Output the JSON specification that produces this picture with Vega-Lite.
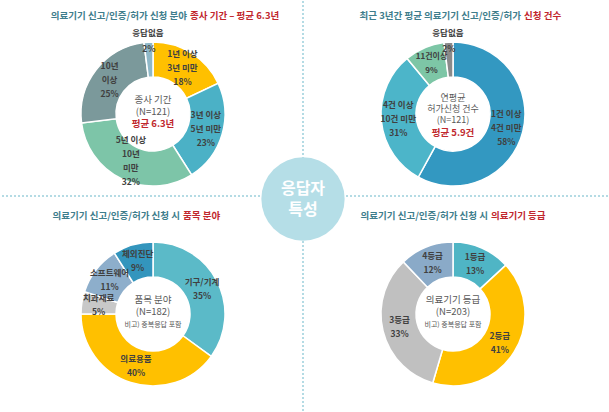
{
  "$schema": "https://vega.github.io/schema/vega-lite/v6.json",
  "width": 609,
  "height": 412,
  "padding": 0,
  "autosize": {"type": "fit", "contains": "padding"},
  "background": "white",
  "config": {"view": {"stroke": null}, "font": "Noto Sans CJK KR", "text": {"font": "Noto Sans CJK KR"}},
  "datasets": {
    "slices": [
      {"panel": "tl", "col": "left", "row": "top", "idx": 1, "cat": "1년 이상 3년 미만", "value": 18, "label2": "", "label3": "1년 이상\n3년 미만\n18%", "label4": "", "small": "", "outside": ""},
      {"panel": "tl", "col": "left", "row": "top", "idx": 2, "cat": "3년 이상 5년 미만", "value": 23, "label2": "", "label3": "3년 이상\n5년 미만\n23%", "label4": "", "small": "", "outside": ""},
      {"panel": "tl", "col": "left", "row": "top", "idx": 3, "cat": "5년 이상 10년 미만", "value": 32, "label2": "", "label3": "", "label4": "5년 이상\n10년\n미만\n32%", "small": "", "outside": ""},
      {"panel": "tl", "col": "left", "row": "top", "idx": 4, "cat": "10년 이상", "value": 25, "label2": "", "label3": "10년\n이상\n25%", "label4": "", "small": "", "outside": ""},
      {"panel": "tl", "col": "left", "row": "top", "idx": 5, "cat": "응답없음", "value": 2, "label2": "", "label3": "", "label4": "", "small": "2%", "outside": "응답없음"},
      {"panel": "tr", "col": "right", "row": "top", "idx": 1, "cat": "1건 이상 4건 미만", "value": 58, "label2": "", "label3": "1건 이상\n4건 미만\n58%", "label4": "", "small": "", "outside": ""},
      {"panel": "tr", "col": "right", "row": "top", "idx": 2, "cat": "4건 이상 10건 미만", "value": 31, "label2": "", "label3": "4건 이상\n10건 미만\n31%", "label4": "", "small": "", "outside": ""},
      {"panel": "tr", "col": "right", "row": "top", "idx": 3, "cat": "11건이상", "value": 9, "label2": "11건이상\n9%", "label3": "", "label4": "", "small": "", "outside": ""},
      {"panel": "tr", "col": "right", "row": "top", "idx": 4, "cat": "응답없음", "value": 2, "label2": "", "label3": "", "label4": "", "small": "2%", "outside": "응답없음"},
      {"panel": "bl", "col": "left", "row": "bottom", "idx": 1, "cat": "기구/기계", "value": 35, "label2": "기구/기계\n35%", "label3": "", "label4": "", "small": "", "outside": ""},
      {"panel": "bl", "col": "left", "row": "bottom", "idx": 2, "cat": "의료용품", "value": 40, "label2": "의료용품\n40%", "label3": "", "label4": "", "small": "", "outside": ""},
      {"panel": "bl", "col": "left", "row": "bottom", "idx": 3, "cat": "치과재료", "value": 5, "label2": "치과재료\n5%", "label3": "", "label4": "", "small": "", "outside": ""},
      {"panel": "bl", "col": "left", "row": "bottom", "idx": 4, "cat": "소프트웨어", "value": 11, "label2": "소프트웨어\n11%", "label3": "", "label4": "", "small": "", "outside": ""},
      {"panel": "bl", "col": "left", "row": "bottom", "idx": 5, "cat": "체외진단", "value": 9, "label2": "체외진단\n9%", "label3": "", "label4": "", "small": "", "outside": ""},
      {"panel": "br", "col": "right", "row": "bottom", "idx": 1, "cat": "1등급", "value": 13, "label2": "1등급\n13%", "label3": "", "label4": "", "small": "", "outside": ""},
      {"panel": "br", "col": "right", "row": "bottom", "idx": 2, "cat": "2등급", "value": 41, "label2": "2등급\n41%", "label3": "", "label4": "", "small": "", "outside": ""},
      {"panel": "br", "col": "right", "row": "bottom", "idx": 3, "cat": "3등급", "value": 33, "label2": "3등급\n33%", "label3": "", "label4": "", "small": "", "outside": ""},
      {"panel": "br", "col": "right", "row": "bottom", "idx": 4, "cat": "4등급", "value": 12, "label2": "4등급\n12%", "label3": "", "label4": "", "small": "", "outside": ""}
    ],
    "titles": [
      {"panel": "tl", "col": "left", "row": "top", "t1": "의료기기 신고/인증/허가 신청 분야", "t2": "종사 기간 – 평균 6.3년"},
      {"panel": "tr", "col": "right", "row": "top", "t1": "최근 3년간 평균 의료기기 신고/인증/허가", "t2": "신청 건수"},
      {"panel": "bl", "col": "left", "row": "bottom", "t1": "의료기기 신고/인증/허가 신청 시", "t2": "품목 분야"},
      {"panel": "br", "col": "right", "row": "bottom", "t1": "의료기기 신고/인증/허가 신청 시", "t2": "의료기기 등급"}
    ],
    "centers": [
      {"panel": "tl", "col": "left", "row": "top", "main": "종사 기간\n(N=121)", "sub": "평균 6.3년"},
      {"panel": "tr", "col": "right", "row": "top", "main": "연평균\n허가신청 건수\n(N=121)", "sub": "평균 5.9건"},
      {"panel": "bl", "col": "left", "row": "bottom", "main": "품목 분야\n(N=182)", "sub": "비고) 중복응답 포함"},
      {"panel": "br", "col": "right", "row": "bottom", "main": "의료기기 등급\n(N=203)", "sub": "비고) 중복응답 포함"}
    ],
    "decor": [
      {"col": "center", "row": "middle", "label": "응답자\n특성"}
    ]
  },
  "resolve": {"scale": {"theta": "independent", "color": "independent"}},
  "layer": [
    {
      "data": {"name": "decor"},
      "mark": {"type": "rule", "strokeDash": [2, 2], "color": "#9CCFDB", "strokeWidth": 1.5},
      "encoding": {
        "x": {"field": "col", "type": "nominal", "scale": {"type": "point", "domain": ["left", "center", "right"], "range": [152, 452], "padding": 0}, "axis": null}
      }
    },
    {
      "data": {"name": "decor"},
      "mark": {"type": "rule", "strokeDash": [2, 2], "color": "#9CCFDB", "strokeWidth": 1.5, "yOffset": -18},
      "encoding": {
        "y": {"field": "row", "type": "nominal", "scale": {"type": "point", "domain": ["top", "middle", "bottom"], "range": [113, 313], "padding": 0}, "axis": null}
      }
    },
    {
      "data": {"name": "decor"},
      "mark": {"type": "circle", "size": 6940, "color": "#B5DEE7", "opacity": 1, "yOffset": -15},
      "encoding": {
        "x": {"field": "col", "type": "nominal", "scale": {"type": "point", "domain": ["left", "center", "right"], "range": [152, 452], "padding": 0}, "axis": null},
        "y": {"field": "row", "type": "nominal", "scale": {"type": "point", "domain": ["top", "middle", "bottom"], "range": [113, 313], "padding": 0}, "axis": null}
      }
    },
    {
      "data": {"name": "decor"},
      "mark": {"type": "text", "lineBreak": "\n", "fontSize": 16, "fontWeight": "bold", "color": "white", "lineHeight": 21, "dy": -25},
      "encoding": {
        "x": {"field": "col", "type": "nominal", "scale": {"type": "point", "domain": ["left", "center", "right"], "range": [152, 452], "padding": 0}, "axis": null},
        "y": {"field": "row", "type": "nominal", "scale": {"type": "point", "domain": ["top", "middle", "bottom"], "range": [113, 313], "padding": 0}, "axis": null},
        "text": {"field": "label"}
      }
    },
    {
      "data": {"name": "slices"},
      "transform": [{"filter": "datum.panel === 'tl'"}],
      "encoding": {
        "x": {"field": "col", "type": "nominal", "scale": {"type": "point", "domain": ["left", "center", "right"], "range": [152, 452], "padding": 0}, "axis": null},
        "y": {"field": "row", "type": "nominal", "scale": {"type": "point", "domain": ["top", "middle", "bottom"], "range": [113, 313], "padding": 0}, "axis": null},
        "theta": {"field": "value", "type": "quantitative", "stack": true},
        "order": {"field": "idx", "type": "quantitative"}
      },
      "layer": [
        {"mark": {"type": "arc", "innerRadius": 37, "outerRadius": 72, "stroke": "white", "strokeWidth": 1.5},
         "encoding": {"color": {"field": "cat", "type": "nominal", "legend": null, "scale": {"domain": ["1년 이상 3년 미만", "3년 이상 5년 미만", "5년 이상 10년 미만", "10년 이상", "응답없음"], "range": ["#FFC000", "#4BB1C6", "#7DC5A8", "#7B999B", "#8FB8C8"]}}}},
        {"mark": {"type": "text", "radius": 55, "lineBreak": "\n", "fontSize": 8.5, "fontWeight": "bold", "color": "#404040", "lineHeight": 14, "dy": -14}, "encoding": {"text": {"field": "label3"}}},
        {"mark": {"type": "text", "radius": 52, "lineBreak": "\n", "fontSize": 8.5, "fontWeight": "bold", "color": "#404040", "lineHeight": 14, "dy": -21}, "encoding": {"text": {"field": "label4"}}},
        {"mark": {"type": "text", "radius": 65, "fontSize": 8.5, "fontWeight": "bold", "color": "#404040"}, "encoding": {"text": {"field": "small"}}},
        {"mark": {"type": "text", "radius": 81, "fontSize": 8.5, "fontWeight": "bold", "color": "#404040"}, "encoding": {"text": {"field": "outside"}}}
      ]
    },
    {
      "data": {"name": "slices"},
      "transform": [{"filter": "datum.panel === 'tr'"}],
      "encoding": {
        "x": {"field": "col", "type": "nominal", "scale": {"type": "point", "domain": ["left", "center", "right"], "range": [152, 452], "padding": 0}, "axis": null},
        "y": {"field": "row", "type": "nominal", "scale": {"type": "point", "domain": ["top", "middle", "bottom"], "range": [113, 313], "padding": 0}, "axis": null},
        "theta": {"field": "value", "type": "quantitative", "stack": true},
        "order": {"field": "idx", "type": "quantitative"}
      },
      "layer": [
        {"mark": {"type": "arc", "innerRadius": 37, "outerRadius": 72, "stroke": "white", "strokeWidth": 1.5},
         "encoding": {"color": {"field": "cat", "type": "nominal", "legend": null, "scale": {"domain": ["1건 이상 4건 미만", "4건 이상 10건 미만", "11건이상", "응답없음"], "range": ["#3398C1", "#4CB5C9", "#7DC6A6", "#8A8A8A"]}}}},
        {"mark": {"type": "text", "radius": 55, "lineBreak": "\n", "fontSize": 8.5, "fontWeight": "bold", "color": "#404040", "lineHeight": 14, "dy": -14}, "encoding": {"text": {"field": "label3"}}},
        {"mark": {"type": "text", "radius": 54, "lineBreak": "\n", "fontSize": 8, "fontWeight": "bold", "color": "#404040", "lineHeight": 14, "dy": -7}, "encoding": {"text": {"field": "label2"}}},
        {"mark": {"type": "text", "radius": 65, "fontSize": 8.5, "fontWeight": "bold", "color": "#404040"}, "encoding": {"text": {"field": "small"}}},
        {"mark": {"type": "text", "radius": 81, "fontSize": 8.5, "fontWeight": "bold", "color": "#404040"}, "encoding": {"text": {"field": "outside"}}}
      ]
    },
    {
      "data": {"name": "slices"},
      "transform": [{"filter": "datum.panel === 'bl'"}],
      "encoding": {
        "x": {"field": "col", "type": "nominal", "scale": {"type": "point", "domain": ["left", "center", "right"], "range": [152, 452], "padding": 0}, "axis": null},
        "y": {"field": "row", "type": "nominal", "scale": {"type": "point", "domain": ["top", "middle", "bottom"], "range": [113, 313], "padding": 0}, "axis": null},
        "theta": {"field": "value", "type": "quantitative", "stack": true},
        "order": {"field": "idx", "type": "quantitative"}
      },
      "layer": [
        {"mark": {"type": "arc", "innerRadius": 37, "outerRadius": 72, "stroke": "white", "strokeWidth": 1.5},
         "encoding": {"color": {"field": "cat", "type": "nominal", "legend": null, "scale": {"domain": ["기구/기계", "의료용품", "치과재료", "소프트웨어", "체외진단"], "range": ["#5BBAC8", "#FFC000", "#C8C8C8", "#8DAECB", "#3395BD"]}}}},
        {"mark": {"type": "text", "radius": 55, "lineBreak": "\n", "fontSize": 8.5, "fontWeight": "bold", "color": "#404040", "lineHeight": 14, "dy": -7}, "encoding": {"text": {"field": "label2"}}}
      ]
    },
    {
      "data": {"name": "slices"},
      "transform": [{"filter": "datum.panel === 'br'"}],
      "encoding": {
        "x": {"field": "col", "type": "nominal", "scale": {"type": "point", "domain": ["left", "center", "right"], "range": [152, 452], "padding": 0}, "axis": null},
        "y": {"field": "row", "type": "nominal", "scale": {"type": "point", "domain": ["top", "middle", "bottom"], "range": [113, 313], "padding": 0}, "axis": null},
        "theta": {"field": "value", "type": "quantitative", "stack": true},
        "order": {"field": "idx", "type": "quantitative"}
      },
      "layer": [
        {"mark": {"type": "arc", "innerRadius": 37, "outerRadius": 72, "stroke": "white", "strokeWidth": 1.5},
         "encoding": {"color": {"field": "cat", "type": "nominal", "legend": null, "scale": {"domain": ["1등급", "2등급", "3등급", "4등급"], "range": ["#4FB5C5", "#FFC000", "#C0C0C0", "#8AAAC8"]}}}},
        {"mark": {"type": "text", "radius": 55, "lineBreak": "\n", "fontSize": 8.5, "fontWeight": "bold", "color": "#404040", "lineHeight": 14, "dy": -7}, "encoding": {"text": {"field": "label2"}}}
      ]
    },
    {
      "data": {"name": "centers"},
      "transform": [{"filter": "datum.panel !== 'tr'"}],
      "mark": {"type": "text", "lineBreak": "\n", "fontSize": 9.5, "color": "#595959", "lineHeight": 12, "dy": -14},
      "encoding": {
        "x": {"field": "col", "type": "nominal", "scale": {"type": "point", "domain": ["left", "center", "right"], "range": [152, 452], "padding": 0}, "axis": null},
        "y": {"field": "row", "type": "nominal", "scale": {"type": "point", "domain": ["top", "middle", "bottom"], "range": [113, 313], "padding": 0}, "axis": null},
        "text": {"field": "main"}
      }
    },
    {
      "data": {"name": "centers"},
      "transform": [{"filter": "datum.panel === 'tr'"}],
      "mark": {"type": "text", "lineBreak": "\n", "fontSize": 9, "color": "#595959", "lineHeight": 11, "dy": -16},
      "encoding": {
        "x": {"field": "col", "type": "nominal", "scale": {"type": "point", "domain": ["left", "center", "right"], "range": [152, 452], "padding": 0}, "axis": null},
        "y": {"field": "row", "type": "nominal", "scale": {"type": "point", "domain": ["top", "middle", "bottom"], "range": [113, 313], "padding": 0}, "axis": null},
        "text": {"field": "main"}
      }
    },
    {
      "data": {"name": "centers"},
      "transform": [{"filter": "datum.panel === 'tl'"}],
      "mark": {"type": "text", "fontSize": 9.5, "fontWeight": "bold", "color": "#C0282D", "dy": 10},
      "encoding": {
        "x": {"field": "col", "type": "nominal", "scale": {"type": "point", "domain": ["left", "center", "right"], "range": [152, 452], "padding": 0}, "axis": null},
        "y": {"field": "row", "type": "nominal", "scale": {"type": "point", "domain": ["top", "middle", "bottom"], "range": [113, 313], "padding": 0}, "axis": null},
        "text": {"field": "sub"}
      }
    },
    {
      "data": {"name": "centers"},
      "transform": [{"filter": "datum.panel === 'tr'"}],
      "mark": {"type": "text", "fontSize": 9.5, "fontWeight": "bold", "color": "#C0282D", "dy": 19},
      "encoding": {
        "x": {"field": "col", "type": "nominal", "scale": {"type": "point", "domain": ["left", "center", "right"], "range": [152, 452], "padding": 0}, "axis": null},
        "y": {"field": "row", "type": "nominal", "scale": {"type": "point", "domain": ["top", "middle", "bottom"], "range": [113, 313], "padding": 0}, "axis": null},
        "text": {"field": "sub"}
      }
    },
    {
      "data": {"name": "centers"},
      "transform": [{"filter": "datum.row === 'bottom'"}],
      "mark": {"type": "text", "fontSize": 7, "color": "#595959", "dy": 11},
      "encoding": {
        "x": {"field": "col", "type": "nominal", "scale": {"type": "point", "domain": ["left", "center", "right"], "range": [152, 452], "padding": 0}, "axis": null},
        "y": {"field": "row", "type": "nominal", "scale": {"type": "point", "domain": ["top", "middle", "bottom"], "range": [113, 313], "padding": 0}, "axis": null},
        "text": {"field": "sub"}
      }
    },
    {
      "data": {"name": "titles"},
      "transform": [{"filter": "datum.panel === 'tl'"}],
      "encoding": {
        "x": {"field": "col", "type": "nominal", "scale": {"type": "point", "domain": ["left", "center", "right"], "range": [152, 452], "padding": 0}, "axis": null},
        "y": {"field": "row", "type": "nominal", "scale": {"type": "point", "domain": ["top", "middle", "bottom"], "range": [113, 313], "padding": 0}, "axis": null}
      },
      "layer": [
        {"mark": {"type": "text", "fontSize": 9.5, "fontWeight": "bold", "color": "#3E7D8C", "align": "right", "dx": 34, "dy": -98}, "encoding": {"text": {"field": "t1"}}},
        {"mark": {"type": "text", "fontSize": 9.5, "fontWeight": "bold", "color": "#C1272D", "align": "left", "dx": 37, "dy": -98}, "encoding": {"text": {"field": "t2"}}}
      ]
    },
    {
      "data": {"name": "titles"},
      "transform": [{"filter": "datum.panel === 'tr'"}],
      "encoding": {
        "x": {"field": "col", "type": "nominal", "scale": {"type": "point", "domain": ["left", "center", "right"], "range": [152, 452], "padding": 0}, "axis": null},
        "y": {"field": "row", "type": "nominal", "scale": {"type": "point", "domain": ["top", "middle", "bottom"], "range": [113, 313], "padding": 0}, "axis": null}
      },
      "layer": [
        {"mark": {"type": "text", "fontSize": 9.5, "fontWeight": "bold", "color": "#3E7D8C", "align": "right", "dx": 68, "dy": -98}, "encoding": {"text": {"field": "t1"}}},
        {"mark": {"type": "text", "fontSize": 9.5, "fontWeight": "bold", "color": "#C1272D", "align": "left", "dx": 71, "dy": -98}, "encoding": {"text": {"field": "t2"}}}
      ]
    },
    {
      "data": {"name": "titles"},
      "transform": [{"filter": "datum.panel === 'bl'"}],
      "encoding": {
        "x": {"field": "col", "type": "nominal", "scale": {"type": "point", "domain": ["left", "center", "right"], "range": [152, 452], "padding": 0}, "axis": null},
        "y": {"field": "row", "type": "nominal", "scale": {"type": "point", "domain": ["top", "middle", "bottom"], "range": [113, 313], "padding": 0}, "axis": null}
      },
      "layer": [
        {"mark": {"type": "text", "fontSize": 9.5, "fontWeight": "bold", "color": "#3E7D8C", "align": "right", "dx": 27, "dy": -98}, "encoding": {"text": {"field": "t1"}}},
        {"mark": {"type": "text", "fontSize": 9.5, "fontWeight": "bold", "color": "#C1272D", "align": "left", "dx": 30, "dy": -98}, "encoding": {"text": {"field": "t2"}}}
      ]
    },
    {
      "data": {"name": "titles"},
      "transform": [{"filter": "datum.panel === 'br'"}],
      "encoding": {
        "x": {"field": "col", "type": "nominal", "scale": {"type": "point", "domain": ["left", "center", "right"], "range": [152, 452], "padding": 0}, "axis": null},
        "y": {"field": "row", "type": "nominal", "scale": {"type": "point", "domain": ["top", "middle", "bottom"], "range": [113, 313], "padding": 0}, "axis": null}
      },
      "layer": [
        {"mark": {"type": "text", "fontSize": 9.5, "fontWeight": "bold", "color": "#3E7D8C", "align": "right", "dx": 35, "dy": -98}, "encoding": {"text": {"field": "t1"}}},
        {"mark": {"type": "text", "fontSize": 9.5, "fontWeight": "bold", "color": "#C1272D", "align": "left", "dx": 38, "dy": -98}, "encoding": {"text": {"field": "t2"}}}
      ]
    }
  ]
}
